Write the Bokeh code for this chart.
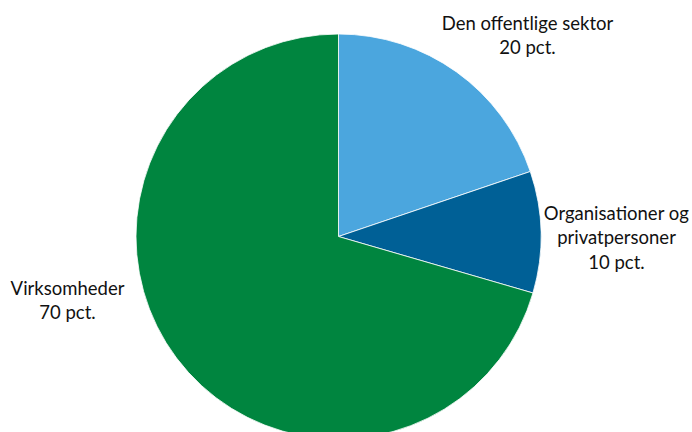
import math
from bokeh.plotting import figure
from bokeh.models import ColumnDataSource
from bokeh.core.properties import value
from bokeh.embed import file_html
from bokeh.resources import INLINE

# Data
categories = ["Den offentlige sektor", "Organisationer og privatpersoner", "Virksomheder"]
shares = [19.8, 9.7, 70.5]
label_lines = [["Den offentlige sektor", "20 pct."],
               ["Organisationer og", "privatpersoner", "10 pct."],
               ["Virksomheder", "70 pct."]]
colors = ["#4BA6DE", "#006096", "#00853F"]

# Layout (pixel-like data units)
W, H = 692, 432
cx, cy, r = 338, 196, 202.5
label_pos = [(527, 410), (616, 220), (67, 145)]  # centre x, y of first line
line_step = 24.5

p = figure(width=W, height=H, x_range=(0, W), y_range=(0, H),
           output_backend="svg", toolbar_location=None, min_border=0)
p.axis.visible = False
p.grid.visible = False
p.outline_line_color = None
p.background_fill_color = "white"

total = sum(shares)
starts, ends = [], []
acc = 0.0
for s in shares:
    a0 = math.pi / 2 - 2 * math.pi * acc / total
    acc += s
    a1 = math.pi / 2 - 2 * math.pi * acc / total
    starts.append(a0)
    ends.append(a1)

src = ColumnDataSource(dict(start=starts, end=ends, color=colors, cat=categories))
p.wedge(x=cx, y=cy, radius=r, start_angle="start", end_angle="end", direction="clock",
        fill_color="color", line_color="white", line_width=0.8, source=src)

xs, ys, ts = [], [], []
for (lx, ly), lines in zip(label_pos, label_lines):
    for i, t in enumerate(lines):
        xs.append(lx)
        ys.append(ly - i * line_step)
        ts.append(t)
p.text(x=xs, y=ys, text=ts, text_align="center", text_baseline="middle",
       text_font=value("Lato"), text_font_size="18.5px", text_color="#111111")

open("out.html", "w").write(file_html(p, INLINE))
